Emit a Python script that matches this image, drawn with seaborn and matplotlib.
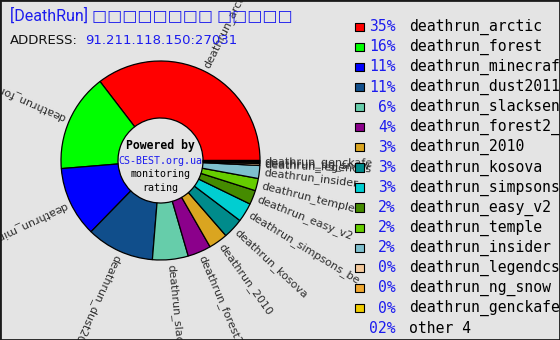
import matplotlib
matplotlib.use("Agg")
import matplotlib.pyplot as plt
import numpy as np
import seaborn as sns
from matplotlib.patches import Rectangle

sns.set_style("white")
plt.rcParams["font.family"] = ["DejaVu Sans"]

# data
MAP_NAMES = [
    "deathrun_arctic", "deathrun_forest", "deathrun_minecraft", "deathrun_dust2011",
    "deathrun_slacksensation", "deathrun_forest2_", "deathrun_2010", "deathrun_kosova",
    "deathrun_simpsons_be", "deathrun_easy_v2", "deathrun_temple", "deathrun_insider",
    "deathrun_legendcs", "deathrun_ng_snow", "deathrun_genckafe", "other 4",
]
MAP_SHARES = [35.4, 15.9, 11.4, 11.0, 5.8, 3.8, 3.1, 3.3, 3.1, 2.3, 2.0, 2.1, 0.3, 0.2, 0.15, 0.15]
SHOWN_PCT = ["35%", "16%", "11%", "11%", "6%", "4%", "3%", "3%", "3%", "2%", "2%", "2%",
             "0%", "0%", "0%", "02%"]
MAP_COLORS = [
    "#FF0000", "#00FF00", "#0000FF", "#104E8B", "#66CDAA", "#8B008B", "#DAA520", "#008B8B",
    "#00CED1", "#458B00", "#66CD00", "#7EC0CE", "#F5C99B", "#F0A830", "#F0CC00", "#D8D8D8",
]
SLICE_LABELS = MAP_NAMES[:15] + [""]

TITLE = "[DeathRun] □□□□□□□□ □□□□□"
ADDRESS = "91.211.118.150:27031"

W, H = 560, 340
BG = "#E4E4E4"
BLUE = "#1C1CEE"


def py(y):
    # picture rows run downward, axes y runs upward
    return H - y


fig = plt.figure(figsize=(W / 100, H / 100), dpi=100, facecolor=BG)
ax = fig.add_axes([0, 0, 1, 1])

cx, cy, R, r_in = 160.5, py(160.5), 99.5, 42.5
wedges, _ = ax.pie(
    MAP_SHARES,
    colors=MAP_COLORS,
    startangle=0,
    counterclock=True,
    center=(cx, cy),
    radius=R,
    wedgeprops=dict(width=R - r_in, edgecolor="black", linewidth=0.9),
)

# labels around the ring, rotated with the slice (no flipping)
for w, lab in zip(wedges, SLICE_LABELS):
    if not lab:
        continue
    ang = (w.theta1 + w.theta2) / 2
    rad = np.deg2rad(ang)
    ax.text(cx + 104 * np.cos(rad), cy + 104 * np.sin(rad), lab,
            rotation=ang, rotation_mode="anchor", ha="left", va="center",
            fontsize=8, color="#2E2E2E")

# centre text
mono = "DejaVu Sans Mono"
ax.text(cx, py(145), "Powered by", ha="center", va="center", family=mono,
        fontsize=8.3, fontweight="bold", color="black")
ax.text(cx, py(160.5), "CS-BEST.org.ua", ha="center", va="center", family=mono,
        fontsize=7.2, color=BLUE)
ax.text(cx, py(174), "monitoring", ha="center", va="center", family=mono,
        fontsize=7.2, color="black")
ax.text(cx, py(188), "rating", ha="center", va="center", family=mono,
        fontsize=7.2, color="black")

# legend on the right
row_y = [py(26.7 + 20.1 * i) for i in range(len(MAP_NAMES))]
n_sw = 15
sns.scatterplot(x=[359.5] * n_sw, y=row_y[:n_sw], hue=MAP_NAMES[:n_sw],
                palette=MAP_COLORS[:n_sw], marker="s", s=36, edgecolor="black",
                linewidth=0.8, legend=False, ax=ax, zorder=5)
for yy, pct, name in zip(row_y, SHOWN_PCT, MAP_NAMES):
    ax.text(396, yy, pct, ha="right", va="center", family=mono, fontsize=10.6, color=BLUE)
    ax.text(409, yy, name, ha="left", va="center", family=mono, fontsize=10.6, color="black")

ax.set_xlim(0, W)
ax.set_ylim(0, H)
ax.set_aspect("auto")
ax.axis("off")

# header
fig.text(10 / W, 1 - 16 / H, TITLE, ha="left", va="center", fontsize=11.5, color=BLUE,
         family=["Roboto", "DejaVu Sans"])
fig.text(10 / W, 1 - 41 / H, "ADDRESS:", ha="left", va="center", fontsize=9.5, color="#111111")
fig.text(85 / W, 1 - 41 / H, ADDRESS, ha="left", va="center", fontsize=9.5, color=BLUE)

fig.patches.append(Rectangle((0, 0), 1, 1, transform=fig.transFigure, fill=False,
                             edgecolor="#1A1A1A", linewidth=2.0, zorder=10))

fig.savefig("out.png", dpi=100, facecolor=BG)
